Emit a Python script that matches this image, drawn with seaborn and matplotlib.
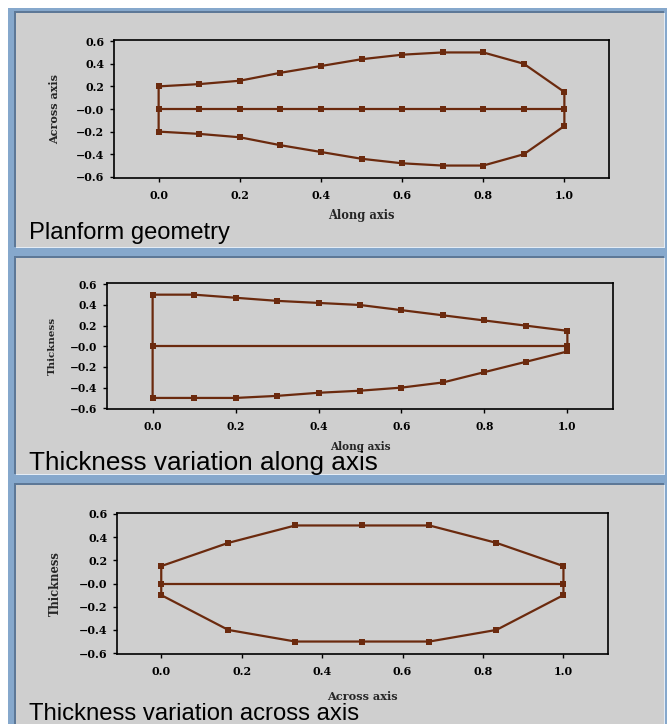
import matplotlib
matplotlib.use("Agg")
import matplotlib.pyplot as plt
from matplotlib.patches import Rectangle
import pandas as pd
import seaborn as sns

# Planform: stations along the body and the half-width at each station
along_x = [0.0, 0.1, 0.2, 0.3, 0.4, 0.5, 0.6, 0.7, 0.8, 0.9, 1.0]
planform_half = [0.20, 0.22, 0.25, 0.32, 0.38, 0.44, 0.48, 0.50, 0.50, 0.40, 0.15]

# Thickness along the axis: upper and lower surfaces
along_upper = [0.50, 0.50, 0.47, 0.44, 0.42, 0.40, 0.35, 0.30, 0.25, 0.20, 0.15]
along_lower = [-0.50, -0.50, -0.50, -0.48, -0.45, -0.43, -0.40, -0.35, -0.25, -0.15, -0.05]

# Thickness across the axis: upper and lower surfaces
across_x = [0.0, 1 / 6, 1 / 3, 0.5, 2 / 3, 5 / 6, 1.0]
across_upper = [0.15, 0.35, 0.50, 0.50, 0.50, 0.35, 0.15]
across_lower = [-0.10, -0.40, -0.50, -0.50, -0.50, -0.40, -0.10]

x_ticks = [0.0, 0.2, 0.4, 0.6, 0.8, 1.0]
x_tick_labels = ["0.0", "0.2", "0.4", "0.6", "0.8", "1.0"]
y_ticks = [0.6, 0.4, 0.2, 0.0, -0.2, -0.4, -0.6]
y_tick_labels = ["0.6", "0.4", "0.2", "\u22120.0", "\u22120.2", "\u22120.4", "\u22120.6"]

captions = ["Planform geometry",
            "Thickness variation along axis",
            "Thickness variation across axis"]
x_labels = ["Along axis", "Along axis", "Across axis"]
y_labels = ["Across axis", "Thickness", "Thickness"]

LINE = "#6b2a0e"
BLUE = "#86a8cc"
BLUE_DARK = "#5d7897"
PANEL = "#cfcfcf"
HILITE = "#e4ecf5"

sns.set_style("ticks")
plt.rcParams["font.family"] = ["DejaVu Sans"]

W, H = 667, 724
fig = plt.figure(figsize=(W / 100, H / 100), dpi=100, facecolor="white")


def box(l, t, r, b):
    """Pixel box (top-left origin) -> figure-fraction rect."""
    return [l / W, 1 - b / H, (r - l) / W, (b - t) / H]


def add_rect(l, t, r, b, color, z):
    x0, y0, w, h = box(l, t, r, b)
    fig.add_artist(Rectangle((x0, y0), w, h, transform=fig.transFigure,
                             facecolor=color, edgecolor="none", zorder=z))


# frame and the three grey panels
add_rect(8, 8, 667, 724, BLUE, -20)
panel_boxes = [(15.5, 13, 664, 247), (15.5, 258, 664, 474), (15.5, 485, 664, 726)]
for (l, t, r, b) in panel_boxes:
    add_rect(l, t, r + 1.2, b + 1.2, HILITE, -15)
    add_rect(l - 1.6, t - 1.6, r, b, BLUE_DARK, -14)
    add_rect(l, t, r, b, PANEL, -13)


def outline(xs, upper, lower):
    px = list(xs) + [xs[-1]] + list(xs[::-1]) + [xs[0], xs[0]]
    py = list(upper) + [0.0] + list(lower[::-1]) + [0.0, upper[0]]
    return pd.DataFrame({"x": px, "y": py})


shapes = [
    (outline(along_x, planform_half, [-v for v in planform_half]),
     pd.DataFrame({"x": along_x, "y": [0.0] * len(along_x)})),
    (outline(along_x, along_upper, along_lower),
     pd.DataFrame({"x": [along_x[0], along_x[-1]], "y": [0.0, 0.0]})),
    (outline(across_x, across_upper, across_lower),
     pd.DataFrame({"x": [across_x[0], across_x[-1]], "y": [0.0, 0.0]})),
]

axes_boxes = [(114, 40, 609, 178), (107, 283.3, 613, 409.3), (117, 512.7, 607.7, 654.3)]
xlabel_y = [216, 446.7, 696]
ylabel_x = [55, 52, 55]
label_sizes = [(8.3, 8.0), (7.6, 7.4), (8.1, 8.3)]
tick_sizes = [7.9, 7.7, 8.0]
caption_pos = [(29, 239, 17.1), (29, 470, 18.8), (29, 720, 17.2)]

serif_bold = dict(family="DejaVu Serif", weight="bold")

for i, (outline_df, center_df) in enumerate(shapes):
    l, t, r, b = axes_boxes[i]
    ax = fig.add_axes(box(l, t, r, b))
    ax.set_facecolor("none")

    sns.lineplot(data=outline_df, x="x", y="y", sort=False, estimator=None,
                 color=LINE, linewidth=1.6, marker="s", markersize=3.9,
                 markeredgewidth=0, ax=ax)
    sns.lineplot(data=center_df, x="x", y="y", sort=False, estimator=None,
                 color=LINE, linewidth=1.6, marker="s", markersize=3.9,
                 markeredgewidth=0, ax=ax)

    ax.set_xlim(-0.11, 1.11)
    ax.set_ylim(-0.61, 0.61)
    ax.set_xticks(x_ticks)
    ax.set_xticklabels(x_tick_labels, fontsize=tick_sizes[i], **serif_bold)
    ax.set_yticks(y_ticks)
    ax.set_yticklabels(y_tick_labels, fontsize=tick_sizes[i], **serif_bold)
    ax.tick_params(axis="both", direction="out", length=3, width=1.0,
                   color="black", labelcolor="black")
    ax.tick_params(axis="x", pad=5.5)
    ax.tick_params(axis="y", pad=4.0)
    for s in ax.spines.values():
        s.set_visible(True)
        s.set_color("black")
        s.set_linewidth(1.2)

    ax.set_xlabel(x_labels[i], fontsize=label_sizes[i][0], va="center", **serif_bold)
    ax.set_ylabel(y_labels[i], fontsize=label_sizes[i][1], va="center", **serif_bold)
    ax.xaxis.set_label_coords(0.5, (b - xlabel_y[i]) / (b - t))
    ax.yaxis.set_label_coords((ylabel_x[i] - l) / (r - l), 0.5)

    cx, cy, cs = caption_pos[i]
    fig.text(cx / W, 1 - cy / H, captions[i], family="Liberation Sans",
             fontsize=cs, color="black", ha="left", va="baseline")

fig.savefig("out.png", dpi=100, facecolor="white")
